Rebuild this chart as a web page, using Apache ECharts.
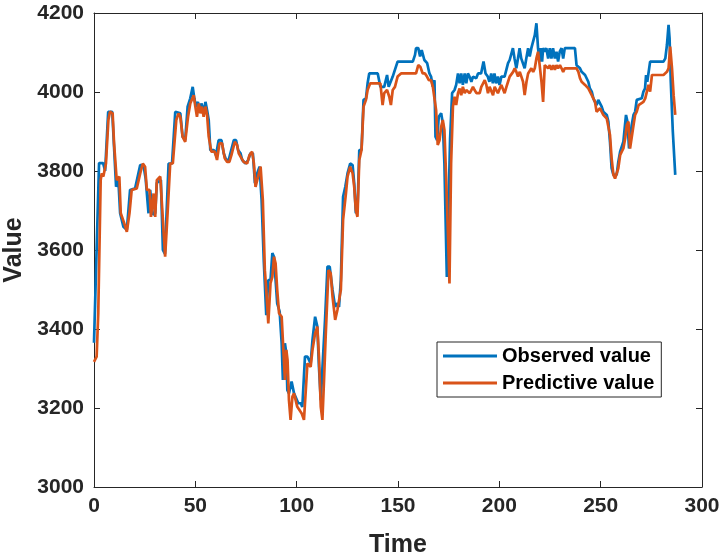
<!DOCTYPE html>
<html>
<head>
<meta charset="utf-8">
<script src="https://cdn.jsdelivr.net/npm/echarts@6/dist/echarts.min.js"></script>
<style>
    html, body { margin: 0; padding: 0; background: #fff; }
    #chart { width: 724px; height: 559px; }
</style>
</head>
<body>
<div id="chart"></div>
<script>
// [time, value] pairs at the line's corners
const observed = [
    [0, 3365], [2.5, 3820], [4.5, 3820], [5.5, 3800], [7, 3950], [9, 3950], [10.9, 3760], [12, 3780],
    [12.9, 3693], [14.5, 3659], [16.2, 3651], [17.8, 3752], [20.3, 3756], [22.8, 3815], [24.4, 3815],
    [25.5, 3780], [26.9, 3693], [27.7, 3752], [29, 3690], [30.2, 3693], [31, 3770], [33, 3777],
    [34, 3600], [35, 3590], [36.8, 3819], [38.5, 3819], [40.1, 3950], [42.6, 3946], [43.7, 3887],
    [45, 3878], [46.2, 3963], [47.5, 3984], [48.7, 4013], [49.5, 3984], [50.3, 3963], [51.3, 3975],
    [52, 3950], [53, 3971], [54.1, 3950], [55, 3975], [55.8, 3954], [56.6, 3929], [57.4, 3853],
    [59.1, 3853], [60.2, 3840], [61.5, 3878], [62.9, 3878], [64, 3845], [65.2, 3828], [66.5, 3828],
    [67.3, 3845], [69, 3878], [70.1, 3878], [71.1, 3853], [72.3, 3845], [73.1, 3828], [74.8, 3819],
    [76.1, 3828], [77.2, 3845], [78.4, 3845], [79.4, 3769], [80.5, 3794], [81.7, 3811], [82.7, 3727],
    [83.8, 3570], [85, 3435], [86, 3524], [87.1, 3524], [88, 3592], [88.8, 3583], [89.6, 3524],
    [90.4, 3465], [91.6, 3444], [92.6, 3364], [93.2, 3271], [94.2, 3364], [94.9, 3338], [95.4, 3245],
    [96.2, 3237], [97.5, 3267], [98.7, 3237], [99.5, 3237], [100.8, 3212], [102, 3212], [102.8, 3203],
    [104.1, 3330], [105.3, 3330], [106.9, 3313], [107.8, 3372], [109.1, 3431], [110.2, 3406],
    [111, 3304], [111.9, 3220], [112.7, 3300], [114, 3423], [115.2, 3558], [116.3, 3558], [117.7, 3499],
    [119, 3456], [120.1, 3465], [120.9, 3456], [121.8, 3524], [122.9, 3735], [124, 3760], [125.1, 3794],
    [126.4, 3819], [127.6, 3815], [128.4, 3769], [129.2, 3693], [130, 3700], [130.9, 3853], [132, 3853],
    [133, 3980], [134.2, 3984], [135, 4022], [135.8, 4047], [140, 4047], [141.3, 4013], [143.2, 4013],
    [144.6, 4043], [145.4, 4013], [146.2, 4013], [147.4, 4039], [148.2, 4039], [149.8, 4077],
    [157.3, 4077], [158.4, 4094], [158.9, 4111], [160, 4111], [160.9, 4090], [161.7, 4106], [163, 4081],
    [164.4, 4073], [165.5, 4047], [166.3, 4039], [167.2, 4013], [168, 4030], [168.5, 3887], [169.3, 3878],
    [170.1, 3937], [171.3, 3946], [172.1, 3921], [172.9, 3819], [174.1, 3532], [174.6, 3528],
    [175.7, 3880], [176.7, 3997], [177.9, 4005], [178.7, 4018], [179.6, 4047], [180.4, 4022],
    [181.2, 4047], [182, 4018], [182.9, 4047], [183.7, 4022], [184.5, 4047], [185.3, 4039], [186.2, 4026],
    [187, 4039], [188.6, 4035], [189.5, 4047], [191, 4047], [192.2, 4077], [193.2, 4047], [194.3, 4039],
    [195.1, 4026], [196, 4047], [196.8, 4022], [197.6, 4047], [198.4, 4022], [199.3, 4039], [200.1, 4018],
    [201, 4039], [201.8, 4035], [202.6, 4039], [203.4, 4043], [204.3, 4073], [205.1, 4081], [205.9, 4085],
    [206.7, 4111], [207.5, 4085], [208.4, 4060], [209.2, 4085], [210, 4111], [210.8, 4085], [211.7, 4085],
    [212.5, 4060], [213.3, 4085], [214.2, 4111], [215, 4090], [215.8, 4111], [216.6, 4111], [217.5, 4144],
    [218.3, 4174], [219.1, 4111], [219.9, 4077], [220.4, 4111], [221.1, 4077], [221.6, 4111],
    [222.4, 4102], [223.2, 4111], [224.1, 4085], [224.9, 4111], [225.7, 4085], [226.5, 4111],
    [227.4, 4085], [228.2, 4102], [229, 4077], [229.8, 4102], [230.7, 4111], [231.5, 4085], [232.3, 4111],
    [237.3, 4111], [238.1, 4068], [239, 4068], [239.8, 4060], [240.6, 4051], [242.3, 4043], [243.9, 4026],
    [244.7, 4009], [245.6, 4001], [246.4, 3984], [247.2, 3975], [248, 3967], [248.8, 3980], [249.7, 3975],
    [250.5, 3963], [251.3, 3950], [252.1, 3946], [253, 3942], [253.8, 3925], [254.6, 3874], [255.4, 3807],
    [256.3, 3790], [257.9, 3790], [258.7, 3823], [259.6, 3849], [260.4, 3853], [261.2, 3874], [262, 3916],
    [262.5, 3942], [263.2, 3925], [264, 3857], [264.5, 3857], [265.3, 3916], [266.2, 3942], [267, 3950],
    [267.8, 3980], [270.3, 3984], [271.1, 4001], [271.9, 4009], [272.4, 4043], [273, 4026], [273.6, 4026],
    [274.4, 4077], [281, 4077], [281.9, 4085], [282.7, 4119], [283.5, 4170], [284, 4136], [284.6, 4026],
    [285.6, 3900], [286.8, 3790]
];

const predicted = [
    [0, 3317], [1.3, 3330], [2.1, 3440], [3.3, 3777], [3.8, 3794], [4.6, 3786], [5.4, 3781], [5.9, 3819],
    [7.1, 3929], [7.9, 3950], [9.2, 3946], [9.9, 3870], [11.2, 3777], [12.5, 3786], [13.2, 3693],
    [14.9, 3668], [16.2, 3646], [17.5, 3693], [18.6, 3752], [21.1, 3756], [22.8, 3794], [24.1, 3819],
    [25.2, 3811], [26.1, 3752], [27.4, 3752], [28.1, 3684], [29.4, 3743], [30.2, 3684], [31, 3777],
    [32.7, 3786], [34, 3676], [35.1, 3583], [36.3, 3693], [37.6, 3819], [38.9, 3819], [40.6, 3929],
    [41.7, 3946], [42.6, 3937], [43.7, 3887], [45, 3874], [46.4, 3937], [47.5, 3971], [48.4, 3975],
    [49.2, 3992], [50, 3963], [50.8, 3937], [51.7, 3971], [52.5, 3946], [53.3, 3963], [54.1, 3937],
    [55, 3963], [55.8, 3942], [56.6, 3887], [57.9, 3849], [59.6, 3849], [60.7, 3828], [61.9, 3870],
    [63.2, 3870], [64.5, 3832], [65.7, 3823], [66.8, 3823], [67.8, 3840], [69.5, 3874], [70.6, 3866],
    [71.4, 3845], [72.8, 3832], [73.9, 3823], [75.6, 3819], [76.7, 3840], [78, 3849], [78.9, 3819],
    [79.7, 3760], [81, 3786], [82.2, 3811], [83.3, 3727], [84.3, 3549], [85, 3499], [86, 3414],
    [87.1, 3516], [88, 3532], [88.8, 3583], [89.6, 3566], [90.4, 3499], [91.3, 3440], [92.6, 3431],
    [93.7, 3321], [94.2, 3271], [94.9, 3347], [95.5, 3321], [96.2, 3220], [97, 3170], [97.9, 3229],
    [98.7, 3237], [99.5, 3220], [100.3, 3203], [101.1, 3203], [102.5, 3186], [103.6, 3170], [104.5, 3245],
    [105.3, 3313], [106.1, 3313], [106.9, 3304], [107.8, 3347], [109.1, 3389], [110.2, 3406], [111, 3330],
    [111.9, 3203], [112.7, 3170], [113.5, 3271], [114.3, 3380], [115.7, 3549], [116.8, 3541],
    [117.7, 3482], [119, 3423], [120.1, 3448], [121, 3448], [121.8, 3499], [122.9, 3676], [124.3, 3743],
    [125.1, 3786], [126.4, 3811], [127.6, 3794], [128.4, 3760], [129.2, 3701], [130, 3684], [130.9, 3828],
    [132, 3853], [133, 3963], [134.2, 3980], [135, 4005], [136.3, 4022], [141.3, 4022], [142.4, 3967],
    [143.2, 3997], [144.6, 4005], [145.7, 3988], [146.5, 3967], [147.4, 4005], [148.5, 4013],
    [149.8, 4039], [151.5, 4047], [158.9, 4047], [160, 4068], [161, 4064], [162.2, 4047], [163.3, 4047],
    [164.3, 4039], [165.2, 4030], [166.3, 4030], [167.2, 4013], [168, 4009], [168.8, 3954], [169.6, 3866],
    [170.5, 3878], [171.3, 3912], [172.1, 3929], [172.9, 3904], [173.8, 3777], [174.6, 3650],
    [175.4, 3515], [176.2, 3819], [177.1, 3963], [177.9, 3988], [178.7, 3967], [179.6, 3997],
    [180.4, 4009], [181.2, 3992], [182, 4013], [182.9, 3997], [183.7, 4005], [184.5, 4009], [185.4, 3997],
    [186.2, 4005], [187, 4013], [187.8, 4005], [188.7, 3997], [190.3, 3997], [191.1, 4013], [192, 4022],
    [192.8, 4030], [193.6, 4018], [194.4, 3997], [195.2, 4013], [196.1, 4009], [196.9, 3992],
    [197.7, 4013], [198.5, 4005], [199.3, 3997], [200.2, 4009], [201, 4018], [201.8, 4013], [202.6, 3997],
    [203.5, 4013], [204.3, 4026], [205.1, 4039], [205.9, 4039], [206.8, 4051], [207.6, 4060],
    [208.4, 4051], [209.2, 4039], [210.1, 4051], [211.7, 4026], [212.5, 3992], [213.4, 4026],
    [214.2, 4047], [215, 4051], [215.8, 4060], [216.7, 4051], [217.5, 4060], [218.3, 4085], [219.1, 4102],
    [219.9, 4068], [220.8, 4026], [221.6, 3975], [222.4, 4068], [223.3, 4068], [224.1, 4060],
    [224.9, 4068], [225.7, 4056], [226.6, 4068], [227.4, 4056], [228.2, 4068], [229, 4060], [229.9, 4068],
    [230.7, 4060], [231.5, 4051], [232.3, 4060], [238.1, 4060], [239, 4051], [239.8, 4035], [240.6, 4026],
    [242.3, 4018], [243.9, 4009], [245.6, 3992], [247.2, 3975], [248, 3950], [248.8, 3950], [249.7, 3959],
    [250.5, 3950], [251.3, 3942], [253, 3933], [254.6, 3891], [255.4, 3832], [256.3, 3790], [257.1, 3781],
    [257.9, 3781], [258.7, 3807], [259.6, 3840], [260.4, 3849], [261.2, 3857], [262.1, 3883],
    [262.9, 3916], [263.7, 3925], [264.5, 3857], [265.4, 3857], [266.2, 3916], [267, 3942], [267.8, 3950],
    [268.7, 3967], [269.5, 3971], [271.1, 3975], [272, 3984], [272.8, 4001], [273.6, 4018], [274.4, 4001],
    [275.3, 4043], [281, 4043], [282.7, 4051], [283.5, 4060], [284.3, 4115], [285.2, 4060], [286, 3992],
    [286.8, 3942]
];

const seriesNames = ['Observed value', 'Predictive value'];
const xTicks = [0, 300, 50];      // min, max, step
const yTicks = [3000, 4200, 200];

const axisColor = '#262626';
const font = '"Liberation Sans", Arial, sans-serif';

function frameAxis(ticks, position, showLabels) {
    return {
        type: 'value',
        position: position,
        min: ticks[0],
        max: ticks[1],
        interval: ticks[2],
        splitLine: { show: false },
        axisLine: { show: true, onZero: false, lineStyle: { color: axisColor, width: 1 } },
        axisTick: { show: true, inside: true, length: 6, lineStyle: { color: axisColor } },
        axisLabel: {
            show: showLabels,
            formatter: value => String(value),
            color: axisColor,
            fontFamily: font,
            fontWeight: 'bold',
            fontSize: 21
        }
    };
}

const bottomAxis = frameAxis(xTicks, 'bottom', true);
bottomAxis.axisLabel.margin = 9;
bottomAxis.name = 'Time';
bottomAxis.nameLocation = 'middle';
bottomAxis.nameGap = 46;
bottomAxis.nameTextStyle = { color: axisColor, fontFamily: font, fontWeight: 'bold', fontSize: 25 };

const leftAxis = frameAxis(yTicks, 'left', true);
leftAxis.axisLabel.margin = 10;
leftAxis.name = 'Value';
leftAxis.nameLocation = 'middle';
leftAxis.nameGap = 61;
leftAxis.nameTextStyle = { color: axisColor, fontFamily: font, fontWeight: 'bold', fontSize: 25 };

echarts.init(document.getElementById('chart'), null, { renderer: 'canvas' })
    .setOption({
        animation: false,
        backgroundColor: '#ffffff',
        grid: {
            left: 94,
            top: 13,
            right: 22,
            bottom: 72,
            containLabel: false,
            outerBoundsMode: 'none'
        },
        legend: {
            data: seriesNames,
            orient: 'vertical',
            left: 437,
            top: 342,
            padding: [4, 7, 4, 6],
            itemGap: 7,
            itemWidth: 54,
            itemHeight: 3,
            icon: 'rect',
            borderColor: axisColor,
            borderWidth: 1,
            backgroundColor: '#ffffff',
            textStyle: {
                color: '#000000',
                fontFamily: font,
                fontWeight: 'bold',
                fontSize: 20,
                lineHeight: 20
            }
        },
        xAxis: [bottomAxis, frameAxis(xTicks, 'top', false)],
        yAxis: [leftAxis, frameAxis(yTicks, 'right', false)],
        series: [
            {
                type: 'line',
                name: seriesNames[0],
                data: observed,
                symbol: 'none',
                color: '#0072BD',
                lineStyle: { width: 2.7 }
            },
            {
                type: 'line',
                name: seriesNames[1],
                data: predicted,
                symbol: 'none',
                color: '#D95319',
                lineStyle: { width: 2.7 }
            }
        ]
    });
</script>
</body>
</html>
